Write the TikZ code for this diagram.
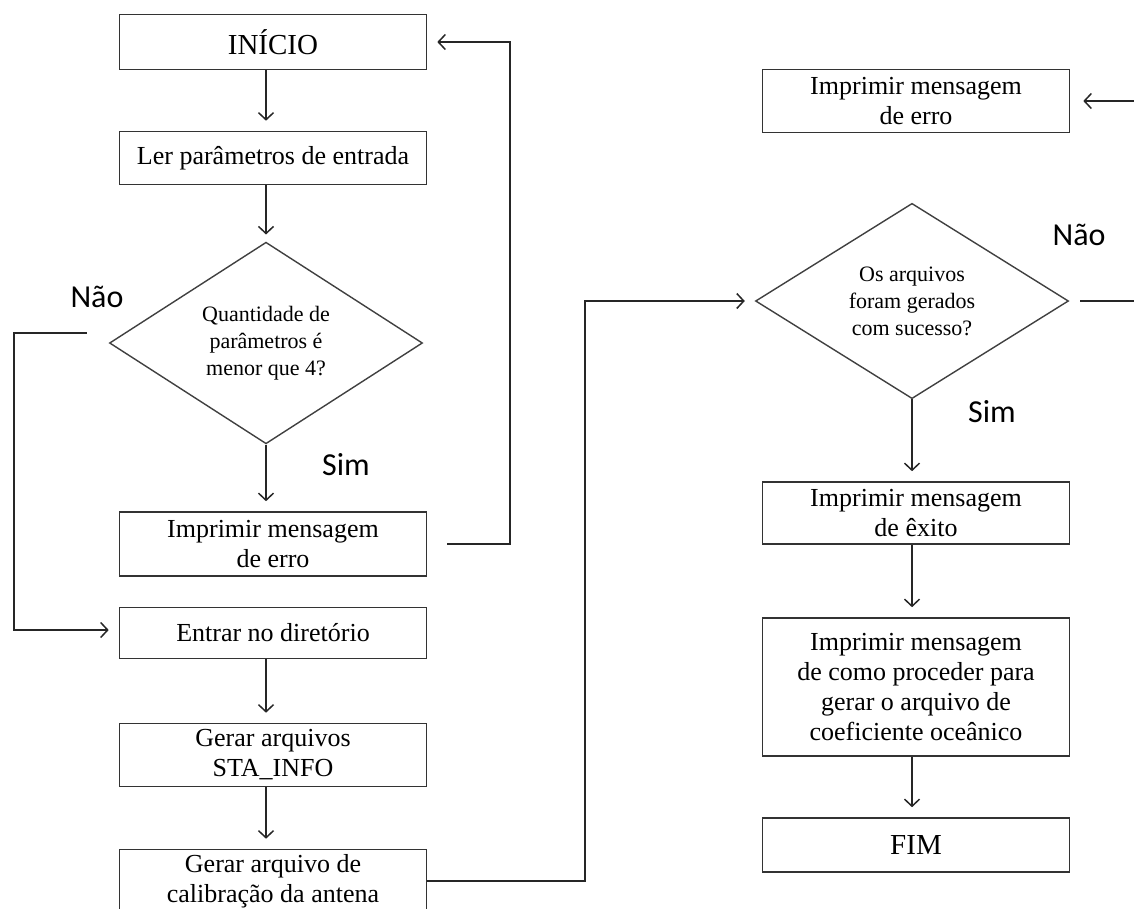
\documentclass[tikz,border=0pt]{standalone}
\usepackage{fontspec}
\setmainfont{Liberation Serif}
\newfontfamily\labelfont{Carlito}
\usetikzlibrary{shapes.geometric,arrows.meta}

\tikzset{
    stepbox/.style={draw=black!80, line width=1.6pt, minimum width=307pt, inner sep=0pt,
        align=center, font=\fontsize{26}{30}\selectfont},
    bigbox/.style={stepbox, font=\fontsize{29}{33}\selectfont},
    decision/.style={draw=black!75, line width=1.4pt, diamond, minimum width=313pt,
        minimum height=190pt, inner sep=0pt, align=center, font=\fontsize{22}{27}\selectfont},
    answer/.style={font=\labelfont\fontsize{32}{36}\selectfont},
    arr/.style={draw=black!85, line width=1.5pt, -{Straight Barb[length=7pt,width=15pt,line width=1.5pt]}, shorten >=10pt},
}

\begin{document}
\begin{tikzpicture}[x=1pt,y=-1pt]
            \useasboundingbox (0,0) rectangle (1134,908);

            % left column
            \node[bigbox, minimum height=55pt] (inicio) at (273,42) {INÍCIO};
            \node[stepbox, minimum height=53pt] (ler) at (273,158) {Ler parâmetros de entrada};
            \node[decision] (dec1) at (266,343) {Quantidade de\\parâmetros é\\menor que 4?};
            \node[stepbox, minimum height=64pt] (erro1) at (273,544) {Imprimir mensagem\\de erro};
            \node[stepbox, minimum height=51pt] (entrar) at (273,633) {Entrar no diretório};
            \node[stepbox, minimum height=63pt] (gerar) at (273,755) {Gerar arquivos\\STA\_INFO};
            \node[stepbox, minimum height=63pt] (calib) at (273,881) {Gerar arquivo de\\calibração da antena};

            \node[answer] (nao1) at (97,297) {Não};
            \node[answer] (sim1) at (346,465) {Sim};

            \draw[arr] (inicio.south -| dec1) -- (ler.north -| dec1);
            \draw[arr, shorten >=7pt] (ler.south -| dec1) -- (dec1.north);
            \draw[arr] (dec1.south) -- (erro1.north -| dec1);
            \draw[arr] (entrar.south -| dec1) -- (gerar.north -| dec1);
            \draw[arr] (gerar.south -| dec1) -- (calib.north -| dec1);

            \coordinate (loopA) at (510,0);
            \coordinate (loopB) at (14,0);
            \draw[arr] ([xshift=20pt]erro1.east) -- (erro1.east -| loopA) |- (inicio.east);
            \draw[arr] ([shift={(-22pt,10pt)}]dec1.west) -- ([yshift=10pt]dec1.west -| loopB) |- ([yshift=3pt]entrar.west);

            % right column
            \node[stepbox, minimum height=63pt] (erro2) at (916,101) {Imprimir mensagem\\de erro};
            \node[decision] (dec2) at (912,301) {Os arquivos\\foram gerados\\com sucesso?};
            \node[stepbox, minimum height=62pt] (exito) at (916,513) {Imprimir mensagem\\de êxito};
            \node[stepbox, minimum height=138pt] (como) at (916,687) {Imprimir mensagem\\de como proceder para\\gerar o arquivo de\\coeficiente oceânico};
            \node[bigbox, minimum height=54pt] (fim) at (916,845) {FIM};

            \node[answer] (nao2) at (1079,235) {Não};
            \node[answer] (sim2) at (992,412) {Sim};

            \draw[arr] (dec2.south) -- (exito.north -| dec2);
            \draw[arr] (exito.south -| dec2) -- (como.north -| dec2);
            \draw[arr] (como.south -| dec2) -- (fim.north -| dec2);

            \coordinate (loopC) at (585,0);
            \coordinate (loopD) at (1150,0);
            \draw[arr] (calib.east) -- (calib.east -| loopC) |- (dec2.west);
            \draw[arr, shorten >=13pt] ([xshift=11pt]dec2.east) -- (dec2.east -| loopD) |- (erro2.east);
\end{tikzpicture}
\end{document}
